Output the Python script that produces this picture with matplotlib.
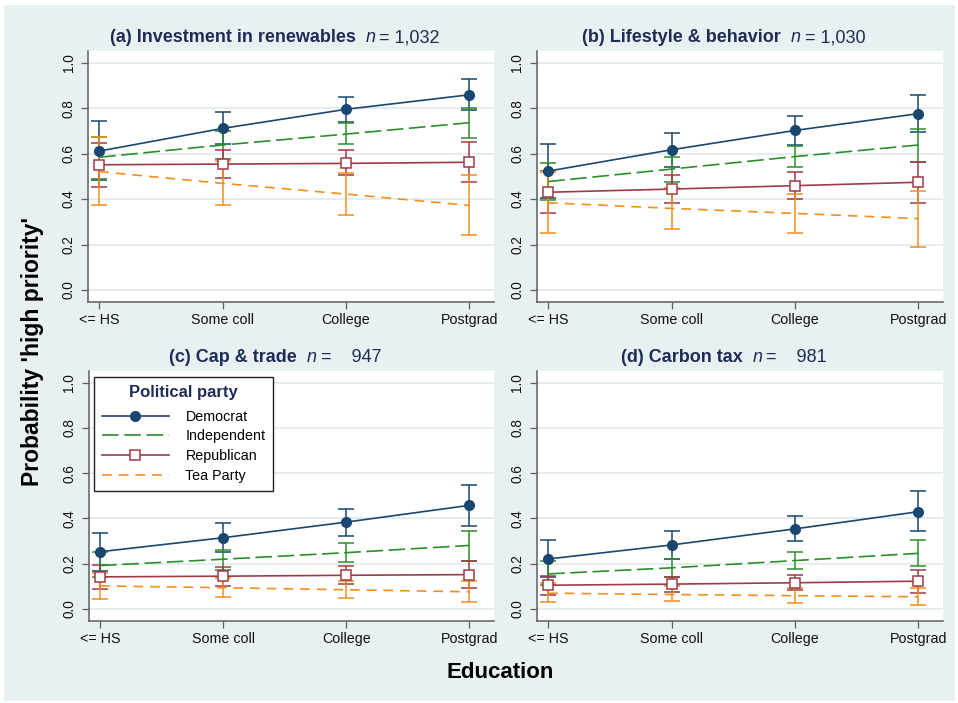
import matplotlib

matplotlib.use("Agg")

import matplotlib.pyplot as plt
from matplotlib.patches import Rectangle

# education levels on the x axis
EDUCATION = ["<= HS", "Some coll", "College", "Postgrad"]
PARTIES = ["Democrat", "Independent", "Republican", "Tea Party"]

# (a) Investment in renewables
renew_est = {
    "Democrat": [0.611, 0.711, 0.795, 0.859],
    "Independent": [0.584, 0.638, 0.686, 0.736],
    "Republican": [0.551, 0.554, 0.557, 0.562],
    "Tea Party": [0.521, 0.469, 0.422, 0.372],
}
renew_lo = {
    "Democrat": [0.484, 0.642, 0.740, 0.790],
    "Independent": [0.487, 0.578, 0.642, 0.667],
    "Republican": [0.455, 0.494, 0.506, 0.474],
    "Tea Party": [0.372, 0.374, 0.331, 0.242],
}
renew_hi = {
    "Democrat": [0.743, 0.783, 0.850, 0.927],
    "Independent": [0.672, 0.700, 0.736, 0.803],
    "Republican": [0.648, 0.616, 0.616, 0.651],
    "Tea Party": [0.672, 0.567, 0.513, 0.506],
}

# (b) Lifestyle & behavior
life_est = {
    "Democrat": [0.523, 0.617, 0.702, 0.776],
    "Independent": [0.477, 0.532, 0.587, 0.638],
    "Republican": [0.430, 0.444, 0.459, 0.474],
    "Tea Party": [0.384, 0.359, 0.337, 0.314],
}
life_lo = {
    "Democrat": [0.404, 0.543, 0.638, 0.696],
    "Independent": [0.396, 0.477, 0.540, 0.565],
    "Republican": [0.337, 0.384, 0.399, 0.384],
    "Tea Party": [0.249, 0.270, 0.252, 0.191],
}
life_hi = {
    "Democrat": [0.642, 0.689, 0.764, 0.856],
    "Independent": [0.560, 0.584, 0.633, 0.710],
    "Republican": [0.523, 0.506, 0.518, 0.565],
    "Tea Party": [0.519, 0.448, 0.422, 0.436],
}

# (c) Cap & trade
cap_est = {
    "Democrat": [0.253, 0.315, 0.384, 0.458],
    "Independent": [0.192, 0.220, 0.249, 0.281],
    "Republican": [0.142, 0.145, 0.149, 0.152],
    "Tea Party": [0.102, 0.094, 0.085, 0.076],
}
cap_lo = {
    "Democrat": [0.168, 0.253, 0.324, 0.366],
    "Independent": [0.140, 0.173, 0.206, 0.214],
    "Republican": [0.088, 0.102, 0.110, 0.095],
    "Tea Party": [0.044, 0.053, 0.048, 0.029],
}
cap_hi = {
    "Democrat": [0.335, 0.378, 0.444, 0.549],
    "Independent": [0.250, 0.261, 0.293, 0.346],
    "Republican": [0.193, 0.184, 0.190, 0.214],
    "Tea Party": [0.160, 0.135, 0.122, 0.123],
}

# (d) Carbon tax
tax_est = {
    "Democrat": [0.221, 0.283, 0.354, 0.430],
    "Independent": [0.155, 0.182, 0.214, 0.246],
    "Republican": [0.105, 0.110, 0.116, 0.123],
    "Tea Party": [0.070, 0.064, 0.059, 0.054],
}
tax_lo = {
    "Democrat": [0.140, 0.221, 0.300, 0.344],
    "Independent": [0.107, 0.141, 0.176, 0.190],
    "Republican": [0.063, 0.076, 0.082, 0.070],
    "Tea Party": [0.029, 0.034, 0.026, 0.016],
}
tax_hi = {
    "Democrat": [0.305, 0.344, 0.410, 0.520],
    "Independent": [0.210, 0.221, 0.252, 0.305],
    "Republican": [0.148, 0.143, 0.151, 0.173],
    "Tea Party": [0.114, 0.100, 0.095, 0.095],
}

PANEL_NAMES = ["(a) Investment in renewables", "(b) Lifestyle & behavior",
               "(c) Cap & trade", "(d) Carbon tax"]
PANEL_N = ["1,032", "1,030", "   947", "   981"]

BG = "#E9F0F2"
TITLE_COLOUR = "#1E2D55"
STYLES = {
    "Democrat": dict(color="#1A476F", marker="o", ms=7, mfc="#1A476F", mec="#1A476F", ls="-"),
    "Independent": dict(color="#2A8F2A", marker="None", ls=(0, (12, 4))),
    "Republican": dict(color="#A03A45", marker="s", ms=7, mfc="white", mec="#A03A45", mew=1.1, ls="-"),
    "Tea Party": dict(color="#F28E1C", marker="None", ls=(0, (7, 5))),
}

plt.rcParams["font.family"] = ["Liberation Sans", "DejaVu Sans"]
plt.rcParams["lines.scale_dashes"] = False

fig = plt.figure(figsize=(9.58, 7.03), dpi=100)
fig.patch.set_facecolor("white")
fig.patches.append(Rectangle((4 / 958, 2 / 703), 951 / 958, 696 / 703,
                             transform=fig.transFigure, facecolor=BG,
                             edgecolor="none", zorder=-5))
renderer = fig.canvas.get_renderer()

W, H = 958, 703
boxes = [(88, 50.7, 494, 302), (537, 50.7, 943, 302),
         (89, 370.7, 494, 621), (537, 370.7, 943, 621)]
panels = [(renew_est, renew_lo, renew_hi), (life_est, life_lo, life_hi),
          (cap_est, cap_lo, cap_hi), (tax_est, tax_lo, tax_hi)]


def add_title(box, name, n_text):
    # bold name, italic n, regular "= count", centred as one line
    x0, y0, x1, y1 = box
    cx = x0 + 0.46 * (x1 - x0)
    cy = y0 - 13
    pieces = [(name, dict(fontweight="bold")), ("  ", {}),
              ("n", dict(style="italic")), ("= " + n_text, {})]
    texts = []
    for txt, kw in pieces:
        t = fig.text(0, 1 - cy / H, txt, ha="left", va="center", fontsize=13,
                     color=TITLE_COLOUR, **kw)
        texts.append(t)
    widths = [t.get_window_extent(renderer).width for t in texts]
    # gap between the bold part and n, and a small one after n
    widths[1] = 10
    widths[2] += 4
    total = sum(widths)
    x = cx - total / 2
    for t, w in zip(texts, widths):
        t.set_x(x / W)
        x += w


xs = list(range(len(EDUCATION)))
for idx, (box, (est, lo, hi)) in enumerate(zip(boxes, panels)):
    x0, y0, x1, y1 = box
    ax = fig.add_axes([x0 / W, 1 - y1 / H, (x1 - x0) / W, (y1 - y0) / H])
    ax.set_facecolor("white")

    handles = []
    for party in PARTIES:
        st = STYLES[party]
        yerr = [[e - l for e, l in zip(est[party], lo[party])],
                [h - e for e, h in zip(est[party], hi[party])]]
        ax.errorbar(xs, est[party], yerr=yerr, fmt="none", ecolor=st["color"],
                    elinewidth=1.1, capsize=5.5, capthick=1.1, zorder=2)
    for party in PARTIES:
        (line,) = ax.plot(xs, est[party], lw=1.2, label=party, zorder=3, **STYLES[party])
        handles.append(line)

    ax.set_xlim(-0.09, 3.2)
    ax.set_ylim(-0.053, 1.053)
    ax.set_yticks([0.0, 0.2, 0.4, 0.6, 0.8, 1.0])
    ax.set_yticklabels(["0.0", "0.2", "0.4", "0.6", "0.8", "1.0"])
    ax.set_xticks(xs)
    ax.set_xticklabels(EDUCATION)
    ax.grid(axis="y", color="#E3ECEF", lw=1.3)
    ax.set_axisbelow(True)
    for side in ["top", "right"]:
        ax.spines[side].set_visible(False)
    for side in ["left", "bottom"]:
        ax.spines[side].set_color("#5E5E5E")
        ax.spines[side].set_linewidth(1.1)
    ax.tick_params(axis="x", length=5, width=0.9, color="#5E5E5E",
                   labelsize=10.3, pad=3, labelcolor="#111111")
    ax.tick_params(axis="y", length=5, width=0.9, color="#5E5E5E",
                   labelsize=9.8, pad=4, labelrotation=90, labelcolor="#111111")
    for lbl in ax.get_yticklabels():
        lbl.set_va("center")

    add_title(box, PANEL_NAMES[idx], PANEL_N[idx])

    if idx == 2:
        leg = ax.legend(handles=handles, loc="upper left", title="Political party",
                        fontsize=10.3, frameon=True, fancybox=False,
                        edgecolor="#222222", framealpha=1, handlelength=4.7,
                        handletextpad=1.15, labelspacing=0.4,
                        borderpad=0.55, borderaxespad=0,
                        bbox_to_anchor=(0.012, 0.975))
        leg.get_title().set_fontweight("bold")
        leg.get_title().set_color(TITLE_COLOUR)
        leg.get_title().set_fontsize(12)
        leg.get_frame().set_linewidth(1.0)
        # a little more room under the legend title
        leg._legend_box.sep = 7

fig.text(33 / W, 1 - 351 / H, "Probability 'high priority'", rotation=90,
         ha="center", va="center", fontsize=16.5, fontweight="bold", color="black")
fig.text(500 / W, 1 - 672 / H, "Education", ha="center", va="center",
         fontsize=16, fontweight="bold", color="black")

fig.savefig("out.png", dpi=100, facecolor=fig.get_facecolor())
